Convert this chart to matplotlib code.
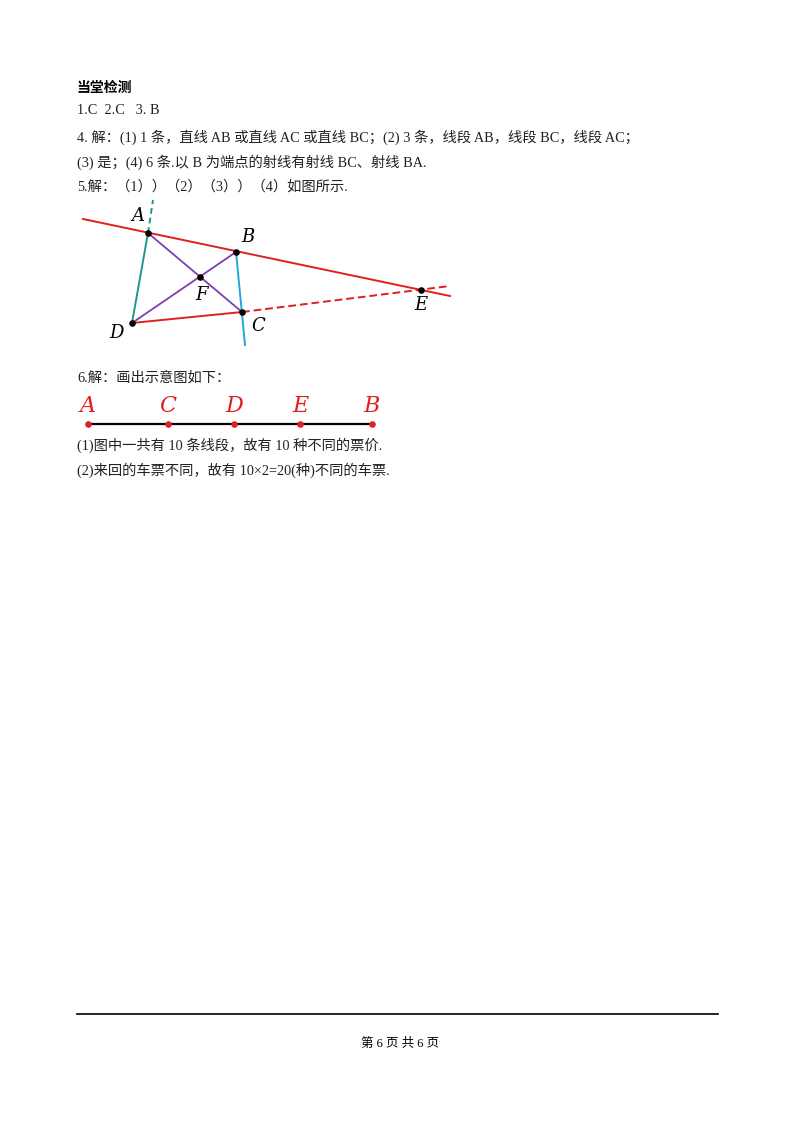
import matplotlib.pyplot as plt

plt.rcParams['font.family'] = ['Liberation Serif', 'Noto Sans CJK SC', 'DejaVu Sans']

# geometry figure points (page pixel coords)
pt_names = ['A', 'B', 'C', 'D', 'E', 'F']
pt_x = [148, 236, 242, 132, 421, 200]
pt_y = [233, 252, 312, 323, 290, 277]
lbl_dx = [-10, 12, 16, -16, 0, 2]
lbl_dy = [-17, -15, 14, 10, 15, 18]

# segment line points
seg_names = ['A', 'C', 'D', 'E', 'B']
seg_x = [88, 168, 234, 300, 372]
seg_y = 424

lines_text = [
    (111, '1.C  2.C   3. B'),
    (137, '4. 解：(1) 1 条，直线 AB 或直线 AC 或直线 BC；(2) 3 条，线段 AB，线段 BC，线段 AC；'),
    (162, '(3) 是；(4) 6 条.以 B 为端点的射线有射线 BC、射线 BA.'),
    (187, '5.解：（1））（2）（3））（4）如图所示.'),
    (378, '6.解：画出示意图如下：'),
    (445, '(1)图中一共有 10 条线段，故有 10 种不同的票价.'),
    (470, '(2)来回的车票不同，故有 10×2=20(种)不同的车票.'),
]

fig = plt.figure(figsize=(8, 11.32), dpi=100)
ax = fig.add_axes([0, 0, 1, 1])
ax.set_xlim(0, 800)
ax.set_ylim(1132, 0)
ax.axis('off')

ax.text(77, 88, '当堂检测', fontsize=10, fontweight='bold', va='center',
        family='Noto Sans CJK SC')
for y, s in lines_text:
    ax.text(77, y, s, fontsize=10.3, va='center', color='#222222')

P = dict(zip(pt_names, zip(pt_x, pt_y)))
red = '#e02020'
# line through A, B, E
ax.plot([83, 450], [219, 296], color=red, lw=1.4)
# D-C solid, C-E dashed
ax.plot([P['D'][0], P['C'][0]], [P['D'][1], P['C'][1]], color=red, lw=1.4)
ax.plot([P['C'][0], 450], [P['C'][1], 286], color=red, lw=1.4, ls=(0, (4, 2)))
# A-D teal, dashed extension above A
ax.plot([P['D'][0], P['A'][0]], [P['D'][1], P['A'][1]], color='#1a9a8a', lw=1.4)
ax.plot([P['A'][0], 153], [P['A'][1], 200], color='#1a9a8a', lw=1.4, ls=(0, (3, 2)))
# B-C blue extended
ax.plot([P['B'][0], 245], [P['B'][1], 345], color='#20a8d8', lw=1.4)
# diagonals
ax.plot([P['A'][0], P['C'][0]], [P['A'][1], P['C'][1]], color='#7b3fb0', lw=1.3)
ax.plot([P['B'][0], P['D'][0]], [P['B'][1], P['D'][1]], color='#7b3fb0', lw=1.3)
ax.scatter(pt_x, pt_y, s=14, color='black', zorder=5)
for n, x, y, dx, dy in zip(pt_names, pt_x, pt_y, lbl_dx, lbl_dy):
    ax.text(x + dx, y + dy, n, fontsize=13, style='italic', family='DejaVu Serif',
            ha='center', va='center')

# segment figure
ax.plot([seg_x[0], seg_x[-1]], [seg_y, seg_y], color='black', lw=1.6)
ax.scatter(seg_x, [seg_y] * len(seg_x), s=14, color=red, zorder=5)
for n, x in zip(seg_names, seg_x):
    ax.text(x, seg_y - 18, n, fontsize=16, style='italic', family='DejaVu Serif',
            color=red, ha='center', va='center')

# footer
ax.plot([77, 718], [1014, 1014], color='black', lw=1.2)
ax.text(400, 1044, '第 6 页 共 6 页', fontsize=9, ha='center', va='center')

fig.savefig('out.png', dpi=100)
